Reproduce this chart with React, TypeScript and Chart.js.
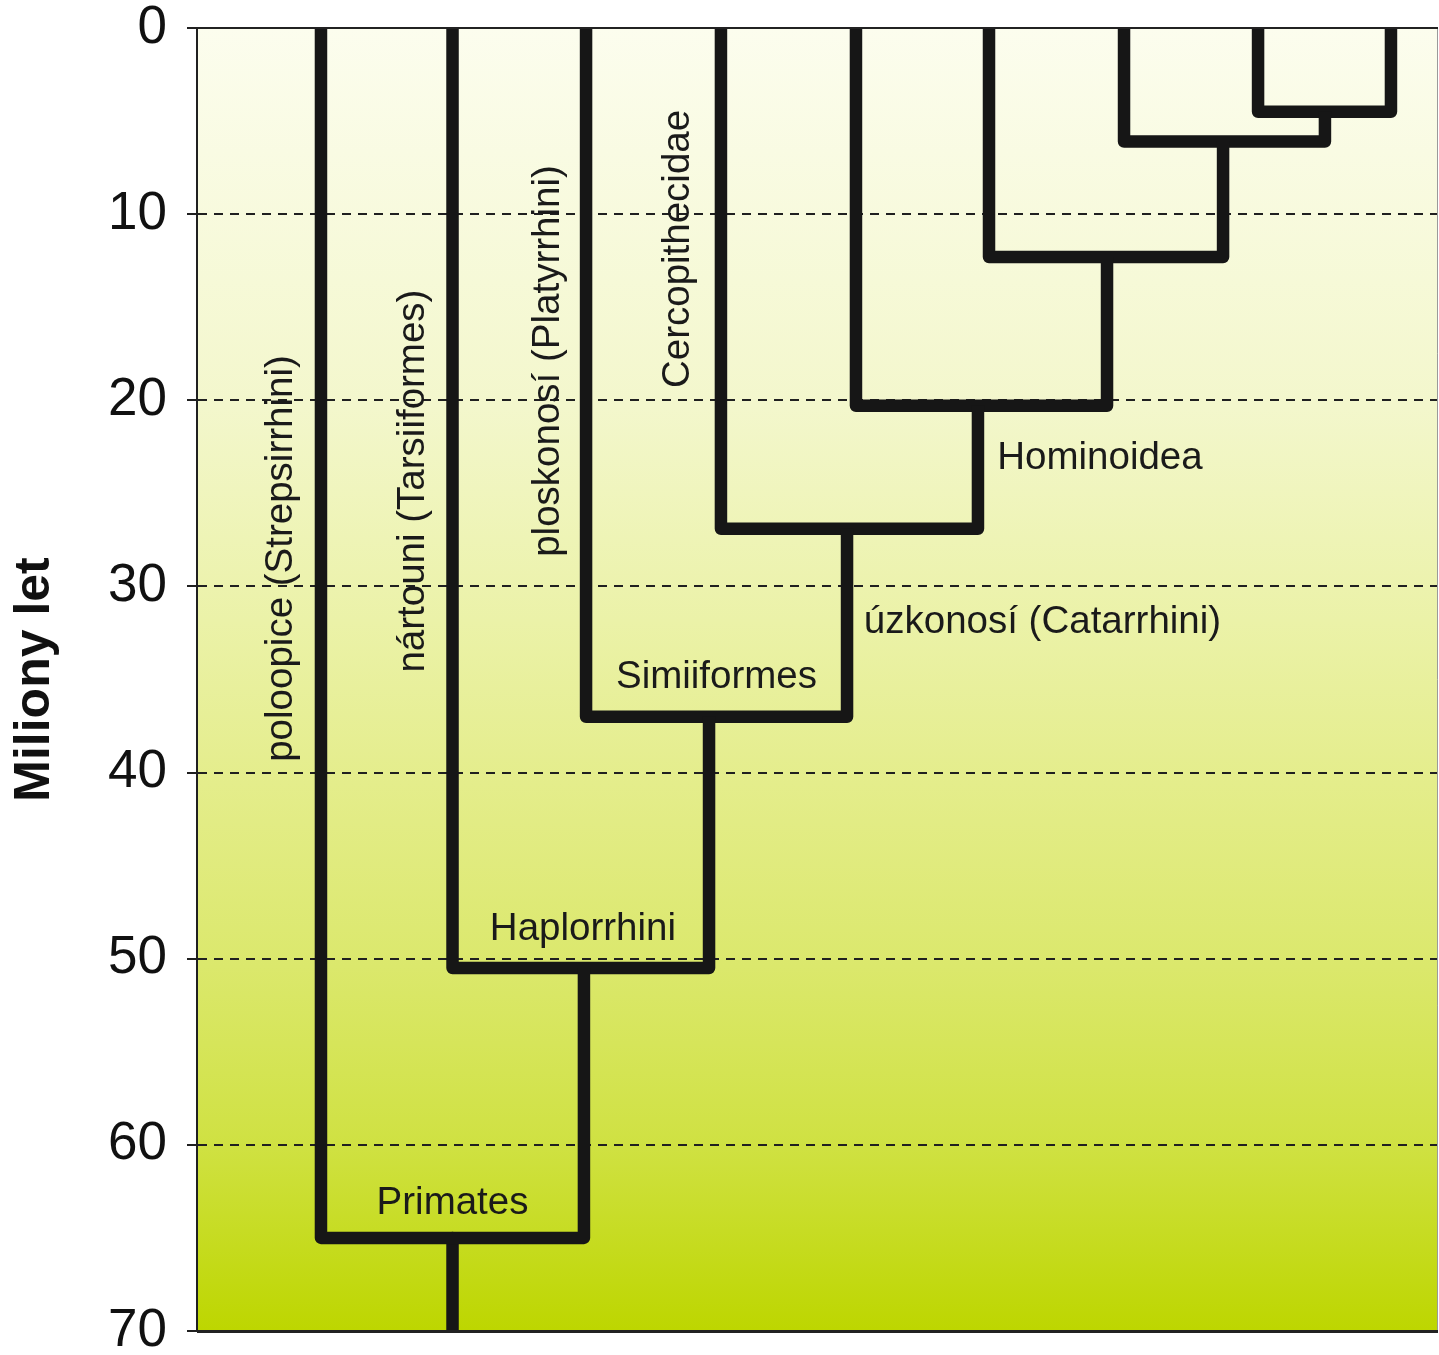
import React, { useEffect, useRef } from 'react';
import { Chart, registerables } from 'chart.js';

Chart.register(...registerables);

// Axis (millions of years ago)
const yMin = 0;
const yMax = 70;
const yStep = 10;

// Tip lineages (horizontal positions in arbitrary layout units 0..100)
const tipX = [9.99, 20.59, 31.35, 42.22, 53.1, 63.82, 74.7, 85.5, 96.21];

// Internal nodes: age (Ma) and x position of the stem leading to each node
const nodeNames = ['Primates', 'Haplorrhini', 'Simiiformes', 'Catarrhini', 'Hominoidea', 'n6', 'n7', 'n8'];
const nodeAge = [65, 50.5, 37, 26.9, 20.3, 12.3, 6.1, 4.5];
const nodeStemX = [20.59, 31.18, 41.26, 52.38, 62.93, 73.33, 82.68, 90.89];
const rootAge = 70;

// Text labels (positions in data units)
const labelText = [
  'poloopice (Strepsirrhini)',
  'nártouni (Tarsiiformes)',
  'ploskonosí (Platyrrhini)',
  'Cercopithecidae',
  'Hominoidea',
  'úzkonosí (Catarrhini)',
  'Simiiformes',
  'Haplorrhini',
  'Primates',
];
const labelX = [6.82, 17.45, 28.35, 38.82, 72.76, 68.13, 41.86, 31.1, 20.59];
const labelY = [28.5, 24.34, 17.89, 11.87, 23.12, 31.95, 34.9, 48.42, 63.15];
const labelVertical = [true, true, true, true, false, false, false, false, false];

const FONT = "'Liberation Sans', Arial, Helvetica, sans-serif";
const LINE_COLOR = '#161616';

function buildDatasets() {
  const sets: any[] = [];
  for (let i = 0; i < nodeAge.length; i++) {
    let data;
    if (i < nodeAge.length - 1) {
      data = [
        { x: tipX[i], y: 0 },
        { x: tipX[i], y: nodeAge[i] },
        { x: nodeStemX[i + 1], y: nodeAge[i] },
        { x: nodeStemX[i + 1], y: nodeAge[i + 1] },
      ];
    } else {
      data = [
        { x: tipX[i], y: 0 },
        { x: tipX[i], y: nodeAge[i] },
        { x: tipX[i + 1], y: nodeAge[i] },
        { x: tipX[i + 1], y: 0 },
      ];
    }
    sets.push({
      label: nodeNames[i],
      data,
      showLine: true,
      borderColor: LINE_COLOR,
      borderWidth: 12.5,
      borderJoinStyle: 'round',
      borderCapStyle: 'butt',
      pointRadius: 0,
      fill: false,
      tension: 0,
    });
  }
  sets.push({
    label: 'root',
    data: [
      { x: nodeStemX[0], y: nodeAge[0] },
      { x: nodeStemX[0], y: rootAge },
    ],
    showLine: true,
    borderColor: LINE_COLOR,
    borderWidth: 12.5,
    borderJoinStyle: 'round',
    borderCapStyle: 'butt',
    pointRadius: 0,
    fill: false,
  });
  return sets;
}

const backgroundPlugin = {
  id: 'bgGradient',
  beforeDraw(chart: any) {
    const { ctx, chartArea } = chart;
    if (!chartArea) return;
    const { left, top, right, bottom } = chartArea;
    const g = ctx.createLinearGradient(0, top, 0, bottom);
    g.addColorStop(0, '#fcfdee');
    g.addColorStop(0.29, '#f3f7cc');
    g.addColorStop(0.455, '#ebf2a8');
    g.addColorStop(0.58, '#e4ed8b');
    g.addColorStop(0.72, '#dbe86c');
    g.addColorStop(0.86, '#cfe141');
    g.addColorStop(1, '#bdd600');
    ctx.save();
    ctx.fillStyle = g;
    ctx.fillRect(left, top, right - left, bottom - top);
    ctx.restore();
  },
};

const framePlugin = {
  id: 'frame',
  afterDatasetsDraw(chart: any) {
    const { ctx, chartArea } = chart;
    const { left, top, right, bottom } = chartArea;
    ctx.save();
    ctx.strokeStyle = '#9a9a9a';
    ctx.lineWidth = 1;
    ctx.beginPath();
    ctx.moveTo(right - 0.5, top);
    ctx.lineTo(right - 0.5, bottom);
    ctx.stroke();
    ctx.strokeStyle = '#222';
    ctx.lineWidth = 2;
    ctx.beginPath();
    ctx.moveTo(left, top);
    ctx.lineTo(right, top);
    ctx.stroke();
    ctx.lineWidth = 3;
    ctx.beginPath();
    ctx.moveTo(left, bottom + 0.5);
    ctx.lineTo(right, bottom + 0.5);
    ctx.stroke();
    ctx.restore();
  },
};

const labelPlugin = {
  id: 'cladeLabels',
  afterDatasetsDraw(chart: any) {
    const { ctx } = chart;
    const xs = chart.scales.x;
    const ys = chart.scales.y;
    ctx.save();
    ctx.fillStyle = '#1a1a1a';
    ctx.font = `38.5px ${FONT}`;
    ctx.textAlign = 'center';
    ctx.textBaseline = 'middle';
    for (let i = 0; i < labelText.length; i++) {
      const px = xs.getPixelForValue(labelX[i]);
      const py = ys.getPixelForValue(labelY[i]);
      ctx.save();
      ctx.translate(px, py);
      if (labelVertical[i]) ctx.rotate(-Math.PI / 2);
      ctx.fillText(labelText[i], 0, 0);
      ctx.restore();
    }
    ctx.restore();
  },
};

export default function App() {
  const canvasRef = useRef<HTMLCanvasElement | null>(null);

  useEffect(() => {
    document.body.style.margin = '0';
    document.body.style.background = '#ffffff';
    const canvas = canvasRef.current;
    if (!canvas) return;
    const chart = new Chart(canvas, {
      type: 'scatter',
      data: { datasets: buildDatasets() },
      options: {
        responsive: false,
        animation: false,
        devicePixelRatio: 1,
        layout: { autoPadding: false, padding: { left: 0, right: 1, top: 28, bottom: 24 } },
        plugins: {
          legend: { display: false },
          tooltip: { enabled: false },
        },
        scales: {
          x: {
            type: 'linear',
            min: 0,
            max: 100,
            display: false,
          },
          y: {
            type: 'linear',
            min: yMin,
            max: yMax,
            reverse: true,
            afterFit: (scale: any) => {
              scale.width = 197;
              scale.paddingTop = 0;
              scale.paddingBottom = 0;
            },
            ticks: {
              stepSize: yStep,
              padding: 20,
              color: '#111',
              font: { size: 53, family: FONT, lineHeight: 0.85 },
            },
            grid: {
              color: (c: any) =>
                c.tick && (c.tick.value === yMin || c.tick.value === yMax) ? 'rgba(0,0,0,0)' : '#202020',
              lineWidth: 2,
              tickColor: '#202020',
              tickLength: 10,
              tickWidth: 2,
            },
            border: { display: true, color: '#202020', width: 2, dash: [9, 7] },
            title: {
              display: true,
              text: 'Miliony let',
              color: '#111',
              font: { size: 50, weight: 'bold', family: FONT, lineHeight: 1.2 },
              padding: { top: 5, bottom: 0 },
            },
          },
        },
      } as any,
      plugins: [backgroundPlugin, framePlugin, labelPlugin],
    });
    return () => chart.destroy();
  }, []);

  return (
    <div style={{ position: 'absolute', left: 0, top: 0, width: 1439, height: 1355 }}>
      <canvas ref={canvasRef} width={1439} height={1355} style={{ display: 'block' }} />
    </div>
  );
}
